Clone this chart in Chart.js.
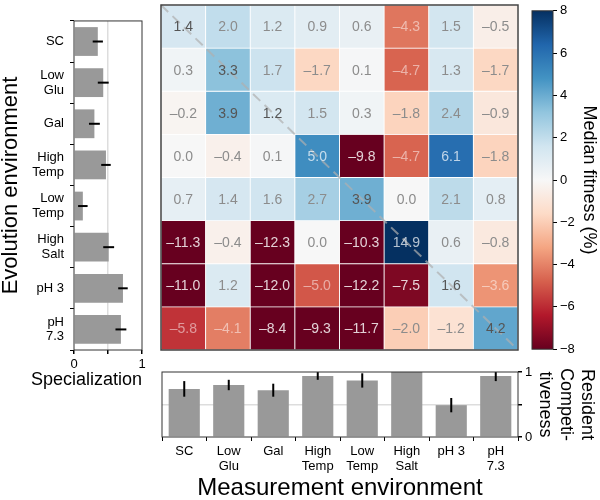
<!DOCTYPE html>
<html>
<head>
<meta charset="utf-8">
<script src="https://cdn.jsdelivr.net/npm/chart.js@4.4.0/dist/chart.umd.min.js"></script>
<style>
  html, body { margin: 0; padding: 0; background: #fff; }
  #wrap { position: relative; width: 600px; height: 500px; overflow: hidden; }
  canvas { position: absolute; }
</style>
</head>
<body>
<div id="wrap">
  <canvas id="left" width="150" height="400" style="left:0;top:0"></canvas>
  <canvas id="heat" width="380" height="360" style="left:150px;top:0"></canvas>
  <canvas id="cbar" width="80" height="360" style="left:520px;top:0"></canvas>
  <canvas id="bottom" width="450" height="140" style="left:150px;top:360px"></canvas>
</div>
<script>
// --- datos ---
const envs = [['SC'], ['Low', 'Glu'], ['Gal'], ['High', 'Temp'], ['Low', 'Temp'], ['High', 'Salt'], ['pH 3'], ['pH', '7.3']];

// filas = ambiente de evolucion, columnas = ambiente de medicion
const fitness = [
  [1.4, 2.0, 1.2, 0.9, 0.6, -4.3, 1.5, -0.5],
  [0.3, 3.3, 1.7, -1.7, 0.1, -4.7, 1.3, -1.7],
  [-0.2, 3.9, 1.2, 1.5, 0.3, -1.8, 2.4, -0.9],
  [0.0, -0.4, 0.1, 5.0, -9.8, -4.7, 6.1, -1.8],
  [0.7, 1.4, 1.6, 2.7, 3.9, 0.0, 2.1, 0.8],
  [-11.3, -0.4, -12.3, 0.0, -10.3, 14.9, 0.6, -0.8],
  [-11.0, 1.2, -12.0, -5.0, -12.2, -7.5, 1.6, -3.6],
  [-5.8, -4.1, -8.4, -9.3, -11.7, -2.0, -1.2, 4.2]
];

const specialization = [0.35, 0.43, 0.30, 0.47, 0.13, 0.51, 0.72, 0.69];
const specErr = [0.075, 0.08, 0.08, 0.07, 0.07, 0.08, 0.07, 0.08];

const competitiveness = [0.74, 0.80, 0.72, 0.94, 0.87, 1.0, 0.49, 0.94];
const compErr = [0.12, 0.08, 0.10, 0.06, 0.11, 0, 0.11, 0.08];

const colorTicks = [-8, -6, -4, -2, 0, 2, 4, 6, 8];
const unitTicks = [0, 0.5, 1];

// --- config general ---
Chart.defaults.font.family = "'Liberation Sans', Arial, sans-serif";
Chart.defaults.color = '#000';
Chart.defaults.animation = false;
Chart.defaults.responsive = false;
Chart.defaults.devicePixelRatio = 1;
Chart.defaults.plugins.legend.display = false;
Chart.defaults.plugins.tooltip.enabled = false;

const RDBU = ['#67001f', '#b2182b', '#d6604d', '#f4a582', '#fddbc7', '#f7f7f7',
              '#d1e5f0', '#92c5de', '#4393c3', '#2166ac', '#053061'];

function hexRgb(h) {
  return [parseInt(h.slice(1, 3), 16), parseInt(h.slice(3, 5), 16), parseInt(h.slice(5, 7), 16)];
}

function rdbu(v) {
  const t = (Math.max(-8, Math.min(8, v)) + 8) / 16 * 10;
  const i = Math.min(9, Math.floor(t));
  const f = t - i;
  const a = hexRgb(RDBU[i]), b = hexRgb(RDBU[i + 1]);
  const c = a.map((x, k) => Math.round(x + (b[k] - x) * f));
  return `rgb(${c[0]},${c[1]},${c[2]})`;
}

function fmt(v) {
  return v < 0 ? '\u2013' + Math.abs(v).toFixed(1) : v.toFixed(1);
}

// color del texto de cada celda
function textColor(v, diag) {
  if (v <= -6) return 'rgba(255,255,255,0.82)';
  if (v <= -3) return 'rgba(255,255,255,0.5)';
  if (v >= 4.5) return 'rgba(255,255,255,0.7)';
  if (diag || v >= 3) return '#555555';
  return '#8c8c8c';
}

const boxPlugin = {
  id: 'box',
  afterDraw(chart, args, opts) {
    const { ctx, chartArea: a } = chart;
    ctx.save();
    ctx.strokeStyle = opts.color || '#333';
    ctx.lineWidth = opts.width || 1;
    ctx.strokeRect(a.left, a.top, a.right - a.left, a.bottom - a.top);
    ctx.restore();
  }
};

// barras de error, siempre via las escalas
const errPlugin = {
  id: 'errbars',
  afterDatasetsDraw(chart, args, opts) {
    if (!opts.values) return;
    const { ctx } = chart;
    const meta = chart.getDatasetMeta(0);
    const horiz = chart.options.indexAxis === 'y';
    const vScale = horiz ? chart.scales.x : chart.scales.y;
    ctx.save();
    ctx.strokeStyle = '#000';
    ctx.lineWidth = 2;
    opts.values.forEach((v, i) => {
      const e = opts.errs[i];
      if (!e) return;
      const el = meta.data[i];
      const p1 = vScale.getPixelForValue(v - e);
      const p2 = vScale.getPixelForValue(Math.min(1, v + e));
      ctx.beginPath();
      if (horiz) { ctx.moveTo(p1, el.y); ctx.lineTo(p2, el.y); }
      else { ctx.moveTo(el.x, p1); ctx.lineTo(el.x, p2); }
      ctx.stroke();
    });
    ctx.restore();
  }
};

// --- 1. barras de especializacion (izquierda) ---
new Chart(document.getElementById('left'), {
  type: 'bar',
  data: {
    labels: envs,
    datasets: [{
      data: specialization,
      backgroundColor: '#999999',
      categoryPercentage: 1,
      barPercentage: 0.7
    }]
  },
  options: {
    indexAxis: 'y',
    layout: { padding: { top: 5, right: 8 } },
    scales: {
      x: {
        min: 0, max: 1,
        afterBuildTicks: s => { s.ticks = unitTicks.map(v => ({ value: v })); },
        afterFit: s => { s.height = 19.4; },
        ticks: { font: { size: 13 }, padding: 3, maxRotation: 0, callback: v => (v === 0.5 ? '' : v) },
        grid: {
          color: c => (c.tick && c.tick.value === 0.5 ? '#dddddd' : 'rgba(0,0,0,0)'),
          tickColor: '#000', tickLength: 4, lineWidth: 1.5
        },
        border: { display: false }
      },
      y: {
        afterFit: s => { s.width = 74; },
        ticks: { font: { size: 13, lineHeight: 1.15 }, padding: 6 },
        grid: { drawOnChartArea: false, tickLength: 4, color: '#000' },
        border: { display: false },
        title: { display: true, text: 'Evolution environment', font: { size: 22, lineHeight: 1 }, padding: 0 }
      }
    },
    plugins: {
      title: {
        display: true, position: 'bottom', align: 'end', text: 'Specialization',
        color: '#000', font: { size: 18, weight: 'normal', lineHeight: 1.2 }, padding: { top: 0, bottom: 9 }
      },
      box: { color: '#333' },
      errbars: { values: specialization, errs: specErr }
    }
  },
  plugins: [boxPlugin, errPlugin]
});

// --- 2. mapa de calor ---
const heatPlugin = {
  id: 'heatText',
  afterDatasetsDraw(chart) {
    const { ctx, chartArea: a } = chart;
    ctx.save();
    // diagonal punteada
    ctx.strokeStyle = 'rgba(175,175,175,0.7)';
    ctx.lineWidth = 2;
    ctx.setLineDash([10, 6]);
    ctx.beginPath();
    ctx.moveTo(a.left, a.top);
    ctx.lineTo(a.right, a.bottom);
    ctx.stroke();
    ctx.setLineDash([]);
    ctx.font = "14px 'Liberation Sans', Arial, sans-serif";
    ctx.textAlign = 'center';
    ctx.textBaseline = 'middle';
    fitness.forEach((row, r) => {
      const meta = chart.getDatasetMeta(r);
      row.forEach((v, c) => {
        const p = meta.data[c].getCenterPoint();
        ctx.fillStyle = textColor(v, r === c);
        ctx.fillText(fmt(v), p.x, p.y + 1);
      });
    });
    ctx.restore();
  }
};

new Chart(document.getElementById('heat'), {
  type: 'bar',
  data: {
    labels: envs,
    datasets: fitness.map(row => ({
      data: row.map(() => 1),
      backgroundColor: row.map(rdbu),
      borderColor: '#ffffff',
      borderWidth: 0.8,
      borderSkipped: false,
      categoryPercentage: 1,
      barPercentage: 1,
      stack: 'm'
    }))
  },
  options: {
    layout: { padding: { left: 11, right: 12, top: 5, bottom: 10 } },
    scales: {
      x: { display: false, stacked: true },
      y: { display: false, stacked: true, min: 0, max: 8, reverse: true }
    },
    plugins: { box: { color: '#444', width: 1.5 } }
  },
  plugins: [heatPlugin, boxPlugin]
});

// --- 3. barra de color ---
new Chart(document.getElementById('cbar'), {
  type: 'bar',
  data: {
    labels: ['c'],
    datasets: [{
      data: [[colorTicks[0], colorTicks[colorTicks.length - 1]]],
      categoryPercentage: 1,
      barPercentage: 1,
      backgroundColor: ctx => {
        const a = ctx.chart.chartArea;
        if (!a) return '#fff';
        const g = ctx.chart.ctx.createLinearGradient(0, a.bottom, 0, a.top);
        RDBU.forEach((c, i) => g.addColorStop(i / (RDBU.length - 1), c));
        return g;
      }
    }]
  },
  options: {
    layout: { padding: { left: 12, top: 5, bottom: 10 } },
    scales: {
      x: { display: false },
      y: {
        position: 'right',
        min: -8, max: 8,
        afterBuildTicks: s => { s.ticks = colorTicks.map(v => ({ value: v })); },
        afterFit: s => { s.width = 47; },
        ticks: { font: { size: 13 }, padding: 3, callback: v => (v < 0 ? '\u2212' + Math.abs(v) : v) },
        grid: { drawOnChartArea: false, tickLength: 4, color: '#000' },
        border: { display: false },
        title: { display: true, text: 'Median fitness (%)', font: { size: 18 }, padding: { top: 0, bottom: 0 } }
      }
    },
    plugins: { box: { color: '#333' } }
  },
  plugins: [boxPlugin]
});

// --- 4. competitividad (abajo) ---
new Chart(document.getElementById('bottom'), {
  type: 'bar',
  data: {
    labels: envs,
    datasets: [{
      data: competitiveness,
      backgroundColor: '#999999',
      categoryPercentage: 1,
      barPercentage: 0.7
    }]
  },
  options: {
    layout: { padding: { left: 12, top: 12 } },
    scales: {
      x: {
        afterFit: s => { s.height = 63; },
        ticks: { font: { size: 13, lineHeight: 1.15 }, padding: 3, maxRotation: 0, autoSkip: false },
        grid: { drawOnChartArea: false, tickLength: 4, color: '#000' },
        border: { display: false },
        title: { display: true, text: 'Measurement environment', font: { size: 24, lineHeight: 1 }, padding: { top: 0, bottom: 0 } }
      },
      y: {
        position: 'right',
        min: 0, max: 1,
        afterBuildTicks: s => { s.ticks = unitTicks.map(v => ({ value: v })); },
        afterFit: s => { s.width = 82; },
        ticks: { font: { size: 13 }, padding: 3, callback: v => (v === 0.5 ? '' : v) },
        grid: {
          color: c => (c.tick && c.tick.value === 0.5 ? '#dddddd' : 'rgba(0,0,0,0)'),
          tickColor: '#000', tickLength: 4, lineWidth: 1.5
        },
        border: { display: false },
        title: {
          display: true, text: ['Resident', 'Competi-', 'tiveness'],
          font: { size: 18, lineHeight: 1.15 }, padding: { top: 3, bottom: 0 }
        }
      }
    },
    plugins: { box: { color: '#333' }, errbars: { values: competitiveness, errs: compErr } }
  },
  plugins: [boxPlugin, errPlugin]
});
</script>
</body>
</html>
